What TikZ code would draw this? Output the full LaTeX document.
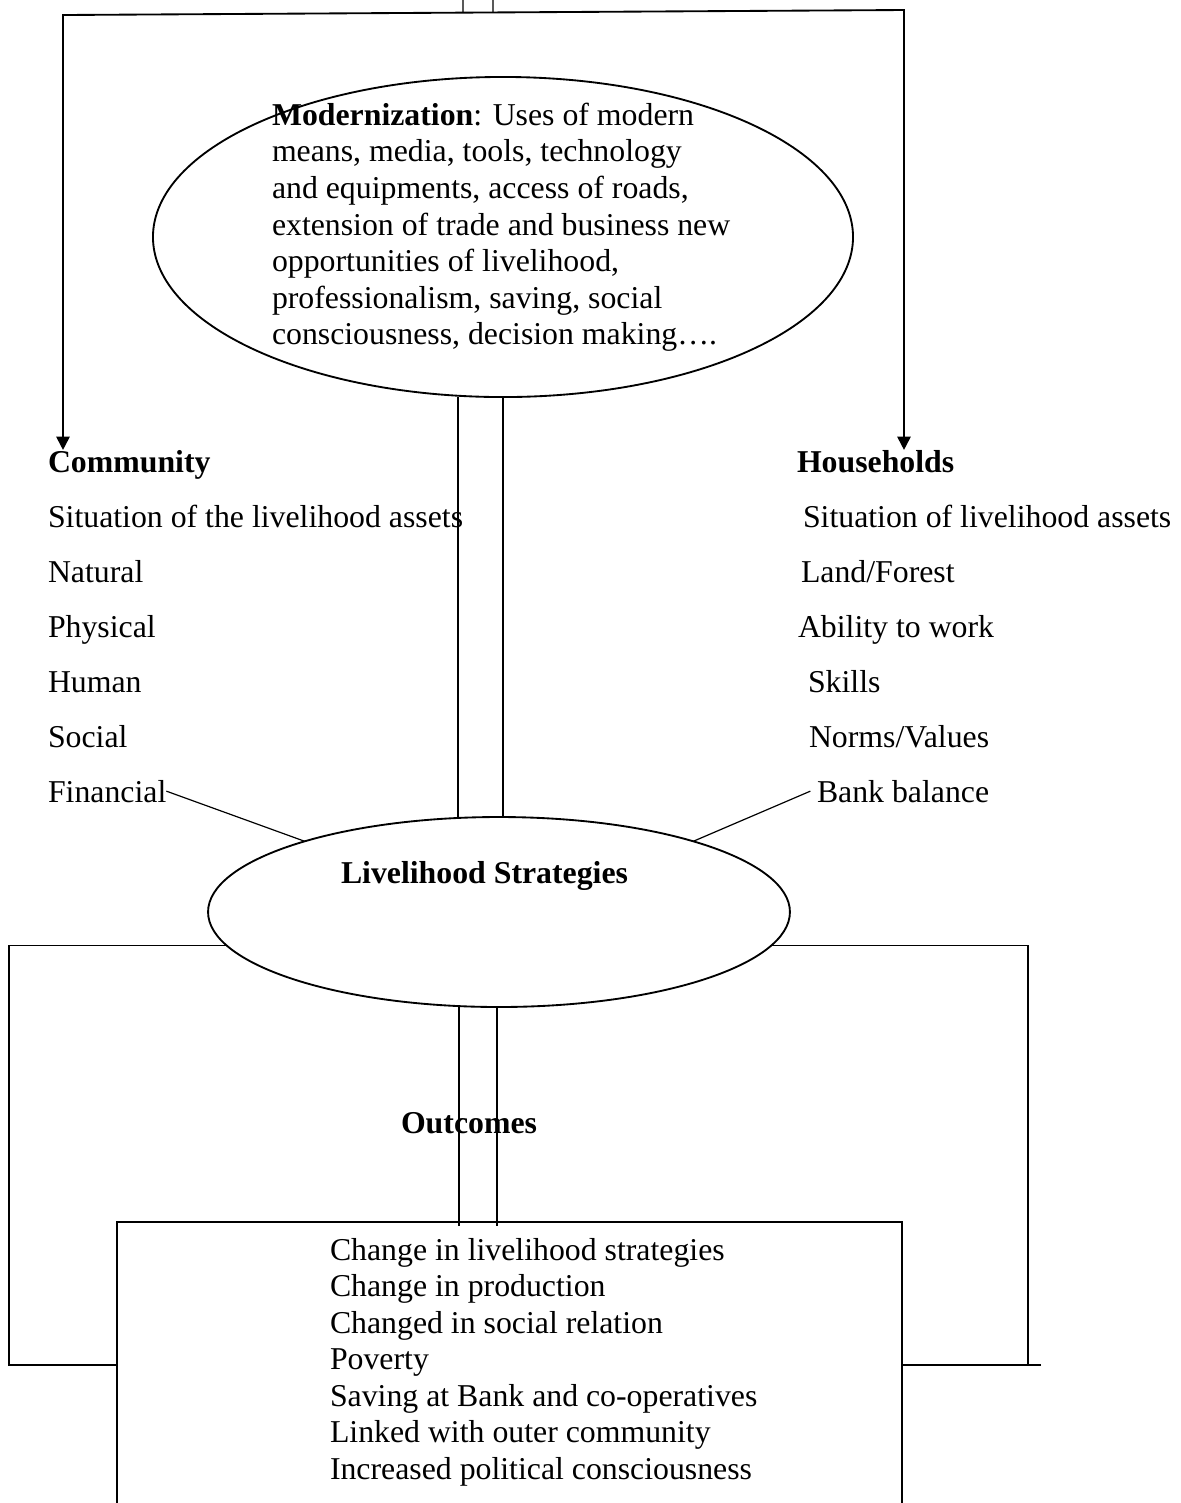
\documentclass[tikz,border=0pt,12pt]{standalone}
\usepackage{fontspec}
\setmainfont{Liberation Serif}
\usetikzlibrary{shapes.geometric}
\usetikzlibrary{arrows.meta}
\usetikzlibrary{calc}
\tikzstyle{item} = [anchor=base west]
\tikzstyle{head} = [anchor=base west, font=\fontsize{12pt}{13.8pt}\selectfont\bfseries]
\tikzstyle{blob} = [ellipse, draw, line width=0.7pt]
\tikzstyle{tip} = [{Triangle[length=5pt,width=5pt]}-{Triangle[length=5pt,width=5pt]}]

\begin{document}
\begin{tikzpicture}[
  x=0.3774pt, y=-0.3774pt,
  every path/.style={line width=0.45pt},
  every node/.style={inner sep=0pt, outer sep=0pt, font=\fontsize{12pt}{13.8pt}\selectfont},
]
\useasboundingbox (0,0) rectangle (1181,1503);

% the two ellipses
\node[blob, minimum width=264.2pt, minimum height=120.8pt] (mod) at (503,237) {};
\node[anchor=north west, align=left] (modtxt) at (272,103)
  {\textbf{Modernization}: Uses of modern\\
   means, media, tools, technology\\
   and equipments, access of roads,\\
   extension of trade and business new\\
   opportunities of livelihood,\\
   professionalism, saving, social\\
   consciousness, decision making….};
\node[blob, minimum width=219.6pt, minimum height=71.7pt] (strat) at (499,912) {};
\node[head] (strattxt) at (341,883) {Livelihood Strategies};

% community and households
\node[head] (comm) at (48,472) {Community};
\node[head] (hh) at (797,472) {Households};
\foreach \t [count=\i] in {Situation of the livelihood assets, Natural, Physical, Human, Social, Financial}
  \node[item] (c\i) at (48,{472+55*\i}) {\t};
\foreach \t/\x [count=\i] in {{Situation of livelihood assets}/803, {Land/Forest}/801, {Ability to work}/798, Skills/808, {Norms/Values}/809, {Bank balance}/817}
  \node[item] (h\i) at (\x,{472+55*\i}) {\t};

% outcomes
\node[head] (outclbl) at (401,1133) {Outcomes};
\node[draw, line width=0.6pt, anchor=north west, minimum width=296.3pt, minimum height=151pt] (outc) at (117,1222) {};
\node[anchor=north west, align=left] (outctxt) at (330,1238)
  {Change in livelihood strategies\\
   Change in production\\
   Changed in social relation\\
   Poverty\\
   Saving at Bank and co-operatives\\
   Linked with outer community\\
   Increased political consciousness};

% top frame
\coordinate (tl) at (63,15);
\coordinate (tr) at (904,10);
\coordinate (in1) at (463,0);
\coordinate (in2) at (493,0);
\draw[tip, line width=0.7pt] (tl |- comm.north) -- (tl) -- (tr) -- (tr |- hh.north);
\draw (in1) -- ($(tl)!(in1)!(tr)$);
\draw (in2) -- ($(tl)!(in2)!(tr)$);

% double lines
\coordinate (m1) at ($(mod.south)+(-45,0)$);
\draw (m1) -- (m1 |- strat.north);
\draw (mod.south) -- (mod.south |- strat.north);
\coordinate (s1) at ($(strat.south)+(-40,0)$);
\coordinate (s2) at ($(strat.south)+(-2,0)$);
\draw (s1) -- ($(s1 |- outc.north)+(0,4)$);
\draw (s2) -- ($(s2 |- outc.north)+(0,4)$);

% assets to strategies
\draw (c6.east) -- (strat.160);
\draw ([xshift=-2.5pt]h6.west) -- (strat.20);

% side frame
\coordinate (lb) at (9,1365);
\coordinate (rb) at (1028,1365);
\draw[line width=0.6pt] (strat.187) -| (lb) -- (outc.west |- lb);
\draw[line width=0.6pt] (strat.353) -| (rb);
\draw[line width=0.6pt] ($(rb)+(13,0)$) -- (outc.east |- rb);
\end{tikzpicture}
\end{document}
